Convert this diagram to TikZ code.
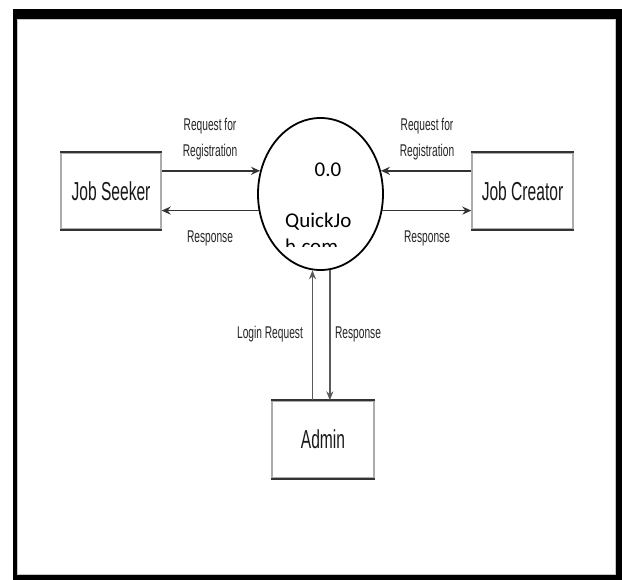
\documentclass[tikz,border=0pt]{standalone}
\usepackage{fontspec}
\setmainfont{Liberation Sans}
\newfontfamily\calfont{Carlito}
\usetikzlibrary{arrows.meta,shapes.geometric}
\begin{document}
\begin{tikzpicture}[x=1pt,y=-1pt,
  ent/.style={draw=gray!65, line width=1.3pt, minimum width=100pt, minimum height=76pt, inner sep=0pt, font=\fontsize{26}{26}\selectfont, text=black!90},
  lbl/.style={font=\fontsize{17}{26}\selectfont, text=black!85, align=center, xscale=0.6, inner sep=0pt},
  flow/.style={line width=1.6pt, draw=black!80, -{Stealth[length=9pt,width=8pt]}},
  vflow/.style={line width=1.5pt, draw=gray!70!black, -{Stealth[length=9pt,width=7pt]}},
  edge/.style={line width=1.8pt, draw=black!80},
  ctext/.style={font=\calfont\fontsize{21}{21}\selectfont, inner sep=0pt, text=black}
]
\useasboundingbox (0,0) rectangle (622,580);
% frame
\fill[black] (13,9.5) rectangle (622,580);
\fill[white] (17,19) rectangle (616,575);
\draw[gray!45, line width=0.8pt] (17.6,19.6) rectangle (615.4,574.4);

% entities
\node[ent] (js) at (111,191) {\scalebox{0.6}[1]{Job Seeker}};
\node[ent, minimum width=101pt] (jc) at (522.5,191) {\scalebox{0.6}[1]{Job Creator}};
\node[ent, minimum width=102pt, minimum height=77pt] (ad) at (323,439.5) {\scalebox{0.6}[1]{Admin}};
\foreach \n in {js,jc,ad}{
  \draw[edge] (\n.north west) -- (\n.north east);
  \draw[edge] (\n.south west) -- (\n.south east);
}

% process
\node[ellipse, draw=black, line width=1.8pt, minimum width=125pt, minimum height=152pt, inner sep=0pt, fill=white] (qj) at (320.5,194) {};
\node[ctext, anchor=base] (num) at (328,177) {0.0};
\begin{scope}
  \clip (250,150) rectangle (390,247);
  \node[ctext, anchor=base west] (nm1) at (285,228) {QuickJo};
  \node[ctext, anchor=base west] (nm2) at (285,254) {h.com};
\end{scope}

% flows
\draw[flow] (qj.159 -| js.east) -- (qj.159);
\draw[flow] (qj.-165) -- (qj.-165 -| js.east);
\draw[flow] (qj.21 -| jc.west) -- (qj.21);
\draw[flow] (qj.-15) -- (qj.-15 -| jc.west);
\draw[vflow] (ad.north -| qj.-96) -- (qj.-96);
\draw[vflow] (qj.-83) -- (ad.north -| qj.-83);

% labels
\node[lbl] (l1) at (210,139) {Request for\\Registration};
\node[lbl] (l2) at (427,139) {Request for\\Registration};
\node[lbl] (l3) at (210,238) {Response};
\node[lbl] (l4) at (427,238) {Response};
\node[lbl] (l5) at (270,334) {Login Request};
\node[lbl] (l6) at (358,334) {Response};
\end{tikzpicture}
\end{document}
